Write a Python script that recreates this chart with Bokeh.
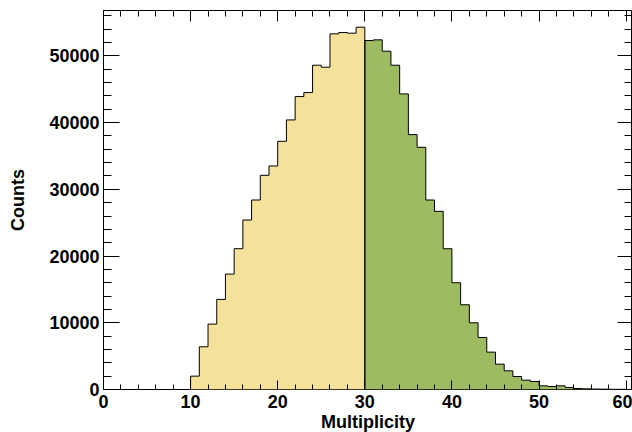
from bokeh.plotting import figure
from bokeh.models import Range1d, LinearAxis, SingleIntervalTicker, CustomJSTickFormatter
from bokeh.embed import file_html
from bokeh.resources import INLINE

# ---- data ----
bin_left_edges = list(range(0, 60))          # bins of width 1, 0..60
bin_width = 1
counts = [
    0, 0, 0, 0, 0, 0, 0, 0, 0, 0,
    2000, 6400, 9800, 13500, 17300, 21100, 25400, 28400, 32100, 33500,
    37200, 40400, 43900, 44500, 48600, 48300, 53300, 53500, 53400, 54300,
    52300, 52400, 50700, 48600, 44300, 38200, 36300, 28400, 26700, 21100,
    16000, 12700, 10000, 7800, 5600, 3800, 2800, 1950, 1400, 1200,
    550, 450, 550, 300, 150, 100, 70, 50, 30, 20,
]
split_at = 30                 # yellow below, green from here on
x_ticks_major = 10
y_ticks_major = 10000
x_label = "Multiplicity"
y_label = "Counts"
yellow = "#F4E29B"
green = "#9DBB60"

FONT = "Liberation Sans"

p = figure(
    output_backend="svg", toolbar_location=None,
    frame_width=529, frame_height=379,
    min_border_left=103, min_border_right=0, min_border_top=10, min_border_bottom=0,
    x_range=Range1d(0, 60.73), y_range=Range1d(0, 56800),
    x_axis_type=None, y_axis_type=None,
    background_fill_color="white", border_fill_color="white",
)
p.grid.visible = False
p.outline_line_color = "black"
p.outline_line_width = 1


def step_outline(lefts, vals, w):
    xs, ys = [lefts[0]], [0]
    for l, v in zip(lefts, vals):
        xs += [l, l + w]
        ys += [v, v]
    xs.append(lefts[-1] + w)
    ys.append(0)
    return xs, ys


groups = [
    ([l for l in bin_left_edges if l < split_at], yellow),
    ([l for l in bin_left_edges if l >= split_at], green),
]
for lefts, col in groups:
    vals = [counts[bin_left_edges.index(l)] for l in lefts]
    xs, ys = step_outline(lefts, vals, bin_width)
    p.patch(xs, ys, fill_color=col, line_color=None)
for lefts, col in groups:
    vals = [counts[bin_left_edges.index(l)] for l in lefts]
    xs, ys = step_outline(lefts, vals, bin_width)
    p.line(xs, ys, line_color="black", line_width=1)

xt = SingleIntervalTicker(interval=x_ticks_major, num_minor_ticks=5)
yt = SingleIntervalTicker(interval=y_ticks_major, num_minor_ticks=5)


def style(ax, tin, mtin, labels=True):
    ax.major_tick_in = tin
    ax.major_tick_out = 0
    ax.minor_tick_in = mtin
    ax.minor_tick_out = 0
    ax.major_tick_line_color = "black"
    ax.minor_tick_line_color = "black"
    ax.axis_line_color = None
    if labels:
        ax.major_label_text_font = FONT
        ax.major_label_text_font_style = "bold"
        ax.major_label_text_font_size = "18px"
        ax.major_label_text_color = "black"
        ax.axis_label_text_font = FONT
        ax.axis_label_text_font_style = "bold"
        ax.axis_label_text_font_size = "18px"
        ax.axis_label_text_color = "black"
    else:
        ax.formatter = CustomJSTickFormatter(code="return ''")
        ax.major_label_text_font_size = "0px"
        ax.major_label_standoff = 0
        ax.axis_label_standoff = 0


xb = LinearAxis(ticker=xt, axis_label=x_label)
style(xb, 9, 5)
xb.major_label_standoff = 5
xb.axis_label_standoff = 1
p.add_layout(xb, "below")

yl = LinearAxis(ticker=yt, axis_label=y_label)
style(yl, 16, 8)
yl.major_label_standoff = 4
yl.axis_label_standoff = 18
p.add_layout(yl, "left")

xa = LinearAxis(ticker=xt)
style(xa, 11, 6, labels=False)
p.add_layout(xa, "above")

yr = LinearAxis(ticker=yt)
style(yr, 15, 8, labels=False)
p.add_layout(yr, "right")

open("out.html", "w").write(file_html(p, INLINE))
